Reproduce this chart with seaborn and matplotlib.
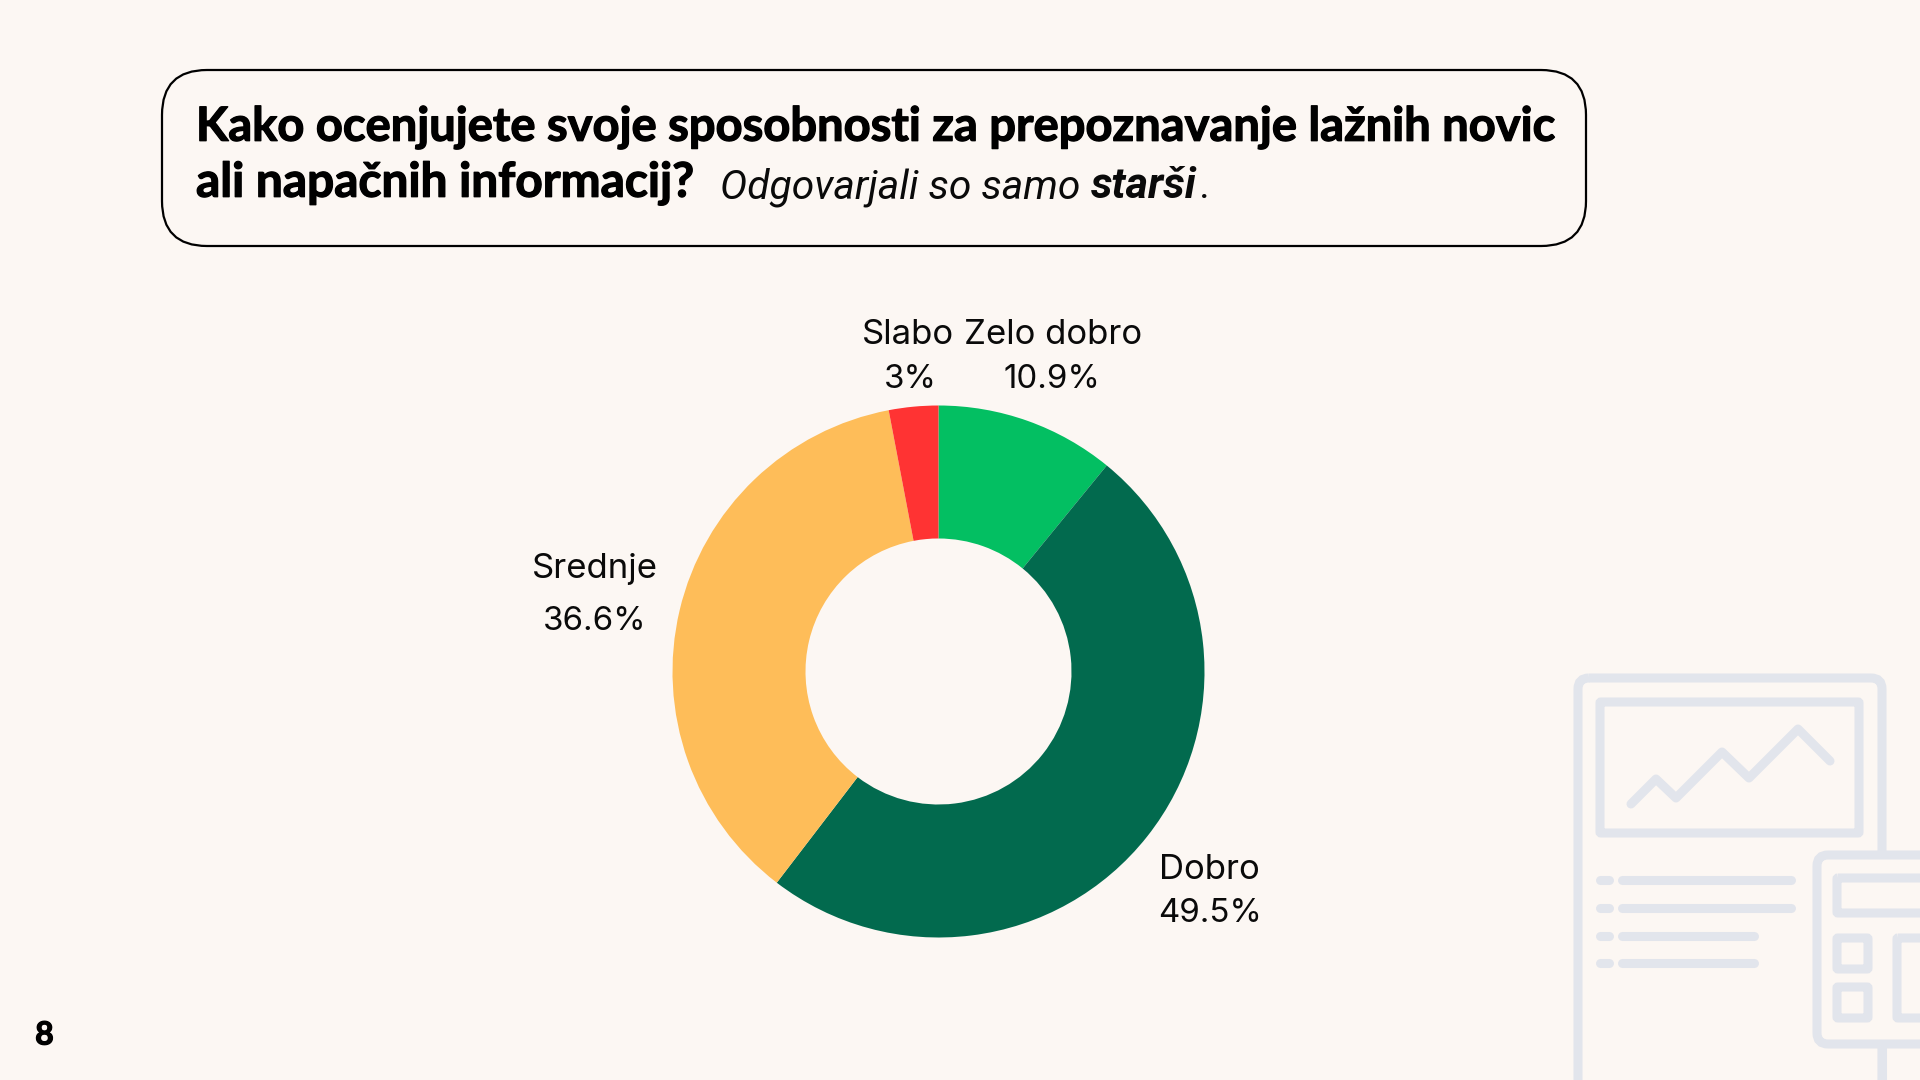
import matplotlib
matplotlib.use("Agg")
import seaborn as sns
from matplotlib import patheffects as pe
from matplotlib import pyplot as plt
from matplotlib.patches import FancyBboxPatch

CATEGORIES = ["Zelo dobro", "Dobro", "Srednje", "Slabo"]
SHARES = [10.9, 49.5, 36.6, 3.0]
SHARE_LABELS = ["10.9%", "49.5%", "36.6%", "3%"]
COLORS = ["#03BF62", "#026A4E", "#FEBD59", "#FF3333"]

TITLE_LINE_1 = "Kako ocenjujete svoje sposobnosti za prepoznavanje lažnih novic"
TITLE_LINE_2 = "ali napačnih informacij?"
NOTE = "Odgovarjali so samo"
NOTE_BOLD = "starši"
PAGE = "8"

BG = "#FCF7F3"
ICON = "#E2E5EC"
INK = "#0A0A0A"

# label centres in pixels: name, share
LABEL_POS = {
    "Zelo dobro": ((1053, 335), (1052, 380)),
    "Dobro": ((1209, 870), (1210, 914)),
    "Srednje": ((595, 569), (595, 622)),
    "Slabo": ((908, 335), (910, 380)),
}

sns.set_theme(style="white")
plt.rcParams["font.family"] = ["Inter", "DejaVu Sans"]

HEAVY = [pe.withStroke(linewidth=0.9, foreground="black")]


def rounded(ax, x0, y0, x1, y1, radius=5, lw=6.5, fc="none", zorder=1):
    ax.add_patch(FancyBboxPatch(
        (x0 + radius, y0 + radius), x1 - x0 - 2 * radius, y1 - y0 - 2 * radius,
        boxstyle=f"round,pad={radius},rounding_size={radius}",
        fc=fc, ec=ICON, lw=lw, zorder=zorder,
    ))


def draw_icon(ax):
    # report page, running off the bottom edge
    rounded(ax, 1578, 678, 1882, 1200, radius=11)
    ax.plot([1882, 1882], [1044, 1090], color=ICON, lw=6.5, zorder=1)
    rounded(ax, 1600, 702, 1859, 833, radius=1)
    ax.plot([1631, 1656, 1676, 1722, 1749, 1798, 1830],
            [804, 779, 798, 752, 778, 729, 761],
            color=ICON, lw=6.5, solid_capstyle="round", solid_joinstyle="round", zorder=1)
    for y, end in [(880, 1791), (908, 1791), (936, 1754), (963, 1754)]:
        ax.plot([1600, 1609], [y, y], color=ICON, lw=6.5, solid_capstyle="round", zorder=1)
        ax.plot([1622, end], [y, y], color=ICON, lw=6.5, solid_capstyle="round", zorder=1)
    # calculator panel on top of the page, running off the right edge
    rounded(ax, 1817, 855, 1990, 1044, radius=11, fc=BG, zorder=2)
    rounded(ax, 1837, 878, 1990, 913, radius=1, zorder=3)
    rounded(ax, 1837, 938, 1868, 969, radius=1, zorder=3)
    rounded(ax, 1837, 987, 1868, 1018, radius=1, zorder=3)
    rounded(ax, 1897, 938, 1990, 1018, radius=1, zorder=3)


def main():
    fig = plt.figure(figsize=(19.2, 10.8), dpi=100, facecolor=BG)

    bg = fig.add_axes([0, 0, 1, 1], zorder=0)
    bg.set_xlim(0, 1920)
    bg.set_ylim(1080, 0)
    bg.axis("off")

    bg.add_patch(FancyBboxPatch(
        (207, 115), 1334, 86, boxstyle="round,pad=45,rounding_size=45",
        fc="none", ec="black", lw=1.6, zorder=2,
    ))
    draw_icon(bg)

    bg.text(196, 127, TITLE_LINE_1, fontsize=33.9, fontweight="bold", family="Lato",
            color="black", va="center", ha="left", path_effects=HEAVY)
    bg.text(196, 183, TITLE_LINE_2, fontsize=34.4, fontweight="bold", family="Lato",
            color="black", va="center", ha="left", path_effects=HEAVY)
    bg.text(720, 187, NOTE, fontsize=29.3, style="italic", family="Roboto",
            color=INK, va="center", ha="left")
    bg.text(1091, 187, NOTE_BOLD, fontsize=31, style="italic", fontweight="bold",
            family="Roboto", color=INK, va="center", ha="left")
    bg.text(1201, 187, ".", fontsize=29, style="italic", family="Roboto",
            color=INK, va="center", ha="left")
    bg.text(44.5, 1035, PAGE, fontsize=23, fontweight="bold", family="Lato",
            color="black", va="center", ha="center", path_effects=HEAVY)

    for name, share in zip(CATEGORIES, SHARE_LABELS):
        name_xy, share_xy = LABEL_POS[name]
        bg.text(*name_xy, name, fontsize=25, color=INK, va="center", ha="center")
        bg.text(*share_xy, share, fontsize=23.8, color=INK, va="center", ha="center")

    # donut centre (938.5, 671.5), outer radius 266 px
    ax = fig.add_axes([(938.5 - 266) / 1920, 1 - (671.5 + 266) / 1080, 532 / 1920, 532 / 1080],
                      zorder=1)
    ax.patch.set_alpha(0)
    ax.pie(SHARES, colors=COLORS, startangle=90, counterclock=False, radius=1,
           wedgeprops={"width": 0.5, "linewidth": 0})
    ax.set_xlim(-1, 1)
    ax.set_ylim(-1, 1)

    fig.savefig("out.png", dpi=100, facecolor=BG)


if __name__ == "__main__":
    main()
